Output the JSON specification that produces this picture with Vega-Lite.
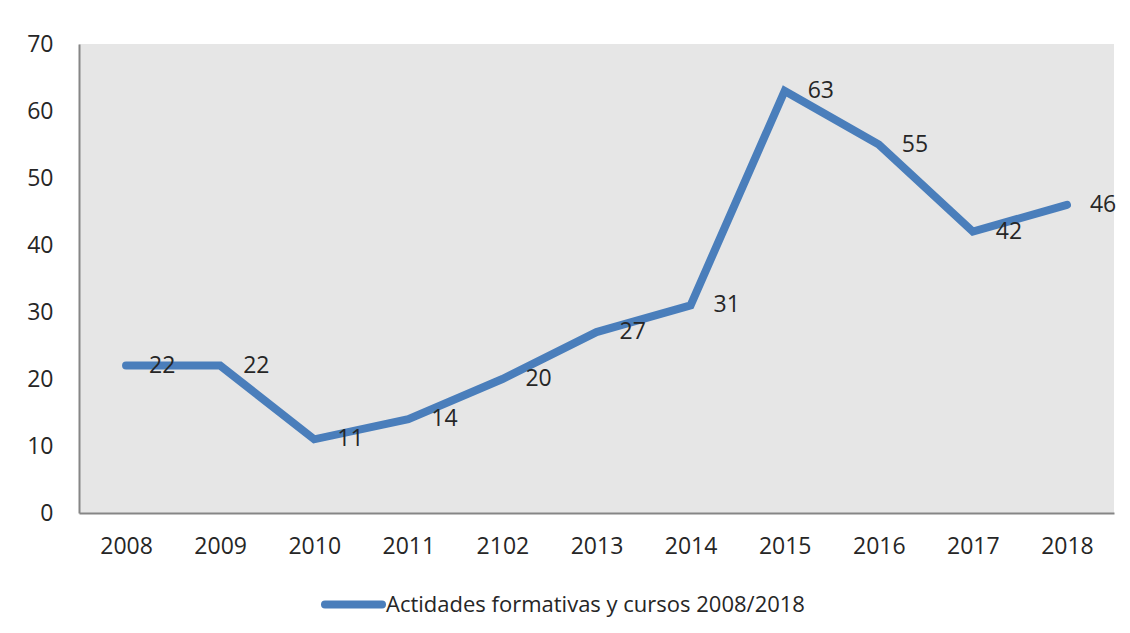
{
  "$schema": "https://vega.github.io/schema/vega-lite/v6.json",
  "width": 1035,
  "height": 469,
  "autosize": {"type": "none"},
  "padding": {"left": 79, "top": 44, "right": 16, "bottom": 120},
  "background": "white",
  "config": {
    "view": {"fill": "#e6e6e6", "stroke": null},
    "font": "Open Sans"
  },
  "data": {
    "values": [
      {"year": "2008", "value": 22, "series": "Actidades formativas y cursos 2008/2018"},
      {"year": "2009", "value": 22, "series": "Actidades formativas y cursos 2008/2018"},
      {"year": "2010", "value": 11, "series": "Actidades formativas y cursos 2008/2018"},
      {"year": "2011", "value": 14, "series": "Actidades formativas y cursos 2008/2018"},
      {"year": "2102", "value": 20, "series": "Actidades formativas y cursos 2008/2018"},
      {"year": "2013", "value": 27, "series": "Actidades formativas y cursos 2008/2018"},
      {"year": "2014", "value": 31, "series": "Actidades formativas y cursos 2008/2018"},
      {"year": "2015", "value": 63, "series": "Actidades formativas y cursos 2008/2018"},
      {"year": "2016", "value": 55, "series": "Actidades formativas y cursos 2008/2018"},
      {"year": "2017", "value": 42, "series": "Actidades formativas y cursos 2008/2018"},
      {"year": "2018", "value": 46, "series": "Actidades formativas y cursos 2008/2018"}
    ]
  },
  "encoding": {
    "x": {
      "field": "year", "type": "ordinal", "sort": null,
      "scale": {"type": "point", "padding": 0.5},
      "axis": {"title": null, "labelAngle": 0, "ticks": false, "grid": false,
               "domainColor": "#868686", "domainWidth": 2,
               "labelFontSize": 23, "labelColor": "#262626", "labelPadding": 22}
    },
    "y": {
      "field": "value", "type": "quantitative",
      "scale": {"domain": [0, 70], "nice": false},
      "axis": {"title": null, "values": [0, 10, 20, 30, 40, 50, 60, 70], "ticks": false, "grid": false,
               "domainColor": "#868686", "domainWidth": 2,
               "labelFontSize": 23, "labelColor": "#262626", "labelPadding": 26}
    }
  },
  "layer": [
    {
      "mark": {"type": "line", "strokeWidth": 8, "strokeCap": "round", "strokeJoin": "miter"},
      "encoding": {
        "color": {
          "field": "series", "type": "nominal",
          "scale": {"range": ["#4a7ebb"]},
          "legend": {"title": null, "orient": "none", "legendX": 242, "legendY": 528,
                     "symbolType": "stroke", "symbolSize": 3249, "symbolStrokeWidth": 8,
                     "labelFontSize": 22, "labelColor": "#262626", "labelOffset": 0, "labelLimit": 800,
                     "encode": {"symbols": {"update": {"strokeCap": {"value": "round"}}}}}
        }
      }
    },
    {
      "mark": {"type": "text", "align": "left", "baseline": "middle", "dx": 23, "fontSize": 23, "color": "#262626"},
      "encoding": {"text": {"field": "value", "type": "quantitative"}}
    }
  ]
}
